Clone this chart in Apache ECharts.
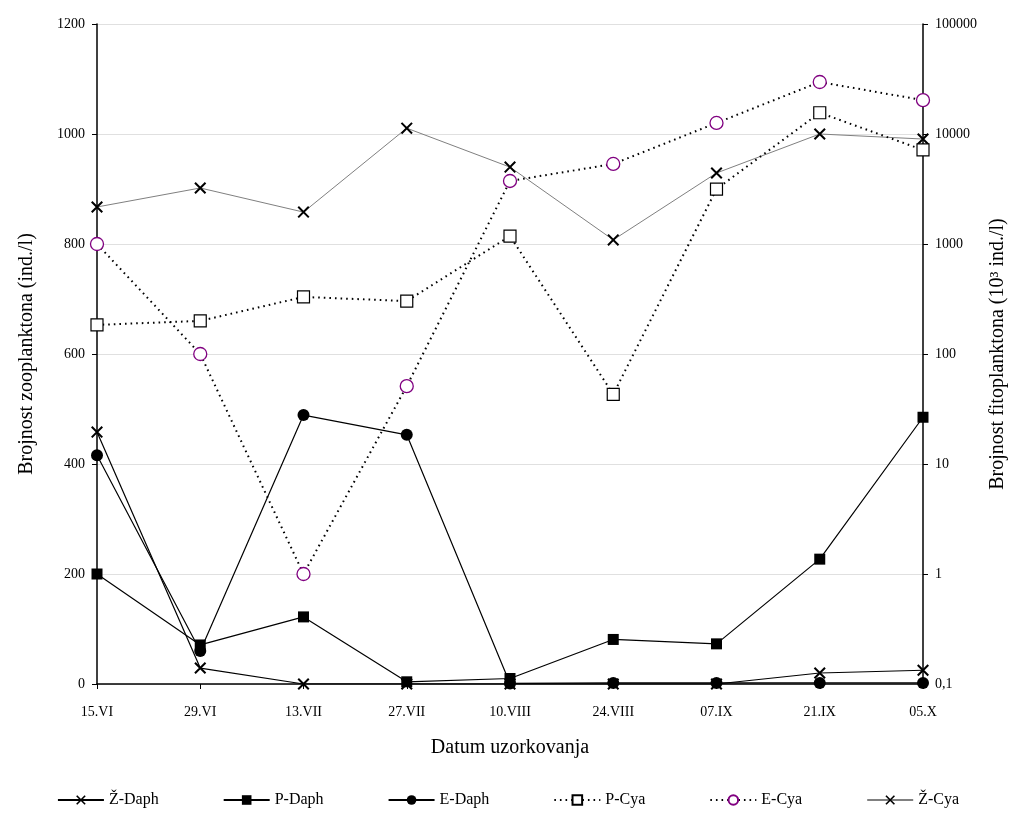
<!DOCTYPE html>
<html>
<head>
<meta charset="utf-8">
<script src="https://cdn.jsdelivr.net/npm/echarts@6/dist/echarts.min.js"></script>
<style>html,body{margin:0;padding:0;background:#fff;}#c{width:1016px;height:814px;}</style>
</head>
<body>
<div id="c"></div>
<script>
var categories = ['15.VI','29.VI','13.VII','27.VII','10.VIII','24.VIII','07.IX','21.IX','05.X'];
var zDaph = [458, 29, 0, 0, 0, 0, 0, 20, 25];
var pDaph = [200, 71, 122, 4, 10, 81, 73, 227, 485];
var eDaph = [416, 60, 489, 453, 1, 2, 2, 2, 2];
var pCya = [184, 200, 330, 303, 1180, 43, 3160, 15600, 7160];
var eCya = [1000, 100, 1, 51, 3740, 5340, 12600, 29700, 20300];
var zCya = [2170, 3230, 1950, 11300, 5000, 1090, 4420, 10000, 9000];
var leftTicks = [0, 200, 400, 600, 800, 1000, 1200];
var rightTicks = ['0,1', '1', '10', '100', '1000', '10000', '100000'];

var FONT = 'Liberation Serif';
var X_PATH = 'path://M0,1.2L1.2,0L10,8.8L8.8,10ZM8.8,0L10,1.2L1.2,10L0,8.8Z';

var chart = echarts.init(document.getElementById('c'));
function fmtRight(v) {
  var lg = Math.round(Math.log10(v));
  return rightTicks[lg + 1] !== undefined ? rightTicks[lg + 1] : '';
}
chart.setOption({
  backgroundColor: '#fff',
  animation: false,
  textStyle: {fontFamily: FONT, color: '#000'},
  grid: {left: 97, right: 90, top: 24, bottom: 130},
  legend: {
    bottom: 1, left: 'center', itemGap: 64, itemWidth: 46, itemHeight: 12,
    textStyle: {fontFamily: FONT, fontSize: 16, color: '#000'},
    data: ['Ž-Daph','P-Daph','E-Daph','P-Cya','E-Cya','Ž-Cya']
  },
  xAxis: {
    type: 'category', data: categories, boundaryGap: false,
    name: 'Datum uzorkovanja', nameLocation: 'middle', nameGap: 54,
    nameTextStyle: {fontFamily: FONT, fontSize: 20, color: '#000'},
    axisLine: {lineStyle: {color: '#000', width: 1.5}},
    axisTick: {show: true, length: 5, alignWithLabel: true, lineStyle: {color: '#000'}},
    axisLabel: {fontFamily: FONT, fontSize: 14, color: '#000', margin: 21},
    splitLine: {show: false}
  },
  yAxis: [{
    type: 'value', min: 0, max: 1200, interval: 200, position: 'left',
    name: 'Brojnost zooplanktona (ind./l)', nameLocation: 'middle', nameGap: 60, nameRotate: 90,
    nameTextStyle: {fontFamily: FONT, fontSize: 20, color: '#000'},
    axisLine: {show: true, lineStyle: {color: '#000', width: 1.5}},
    axisTick: {show: true, length: 5, lineStyle: {color: '#000'}},
    axisLabel: {fontFamily: FONT, fontSize: 14, color: '#000', margin: 12,
      formatter: function (v) { return leftTicks.indexOf(v) >= 0 ? String(v) : ''; }},
    splitLine: {show: true, lineStyle: {color: '#e0e0e0', width: 1}}
  }, {
    type: 'log', logBase: 10, min: 0.1, max: 100000, position: 'right',
    name: 'Brojnost fitoplanktona (10³ ind./l)', nameLocation: 'middle', nameGap: 65, nameRotate: 90,
    nameTextStyle: {fontFamily: FONT, fontSize: 20, color: '#000'},
    axisLine: {show: true, lineStyle: {color: '#000', width: 1.5}},
    axisTick: {show: true, length: 5, lineStyle: {color: '#000'}},
    axisLabel: {fontFamily: FONT, fontSize: 14, color: '#000', margin: 12, formatter: fmtRight},
    splitLine: {show: false}
  }],
  series: [{
    name: 'Ž-Daph', type: 'line', yAxisIndex: 0, data: zDaph,
    symbol: X_PATH, symbolSize: 12, z: 3,
    lineStyle: {color: '#000', width: 1.2},
    itemStyle: {color: '#000', borderWidth: 0}
  }, {
    name: 'P-Daph', type: 'line', yAxisIndex: 0, data: pDaph,
    symbol: 'rect', symbolSize: 11, z: 4,
    lineStyle: {color: '#000', width: 1.2},
    itemStyle: {color: '#000', borderWidth: 0}
  }, {
    name: 'E-Daph', type: 'line', yAxisIndex: 0, data: eDaph,
    symbol: 'circle', symbolSize: 12, z: 5,
    lineStyle: {color: '#000', width: 1.2},
    itemStyle: {color: '#000', borderWidth: 0}
  }, {
    name: 'P-Cya', type: 'line', yAxisIndex: 1, data: pCya,
    symbol: 'rect', symbolSize: 12, z: 4,
    lineStyle: {color: '#000', width: 2, type: [1.6, 4]},
    itemStyle: {color: '#fff', borderColor: '#000', borderWidth: 1.2}
  }, {
    name: 'E-Cya', type: 'line', yAxisIndex: 1, data: eCya,
    symbol: 'circle', symbolSize: 13, z: 4,
    lineStyle: {color: '#000', width: 2, type: [1.6, 4]},
    itemStyle: {color: '#fff', borderColor: '#800080', borderWidth: 1.3}
  }, {
    name: 'Ž-Cya', type: 'line', yAxisIndex: 1, data: zCya,
    symbol: X_PATH, symbolSize: 12, z: 3,
    lineStyle: {color: '#808080', width: 1},
    itemStyle: {color: '#000', borderWidth: 0}
  }]
});
</script>
</body>
</html>
